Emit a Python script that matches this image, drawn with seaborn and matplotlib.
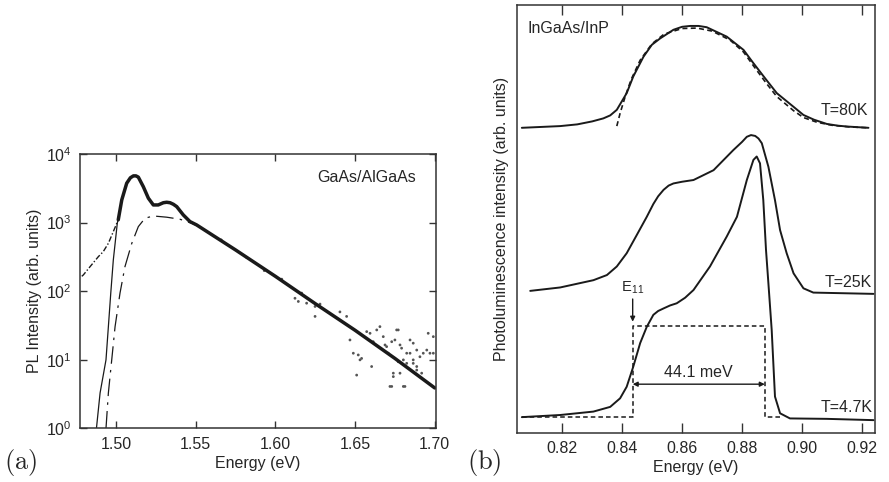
import math
import matplotlib
matplotlib.use("Agg")
import matplotlib.pyplot as plt
import matplotlib.ticker as mticker
import seaborn as sns

# ---------------- (a) GaAs/AlGaAs, PL intensity on a log axis ----------------
# measured spectrum (thick line)
meas_E = [1.5014, 1.5036, 1.5067, 1.5090, 1.5109, 1.5125, 1.5140, 1.5171, 1.5203,
          1.5234, 1.5265, 1.5297, 1.5318, 1.5339, 1.5360, 1.5381, 1.5422, 1.5464,
          1.5506, 1.5750, 1.6000, 1.6250, 1.6500, 1.6750, 1.7000]
meas_I = [1100, 2140, 3750, 4500, 4800, 4800, 4600, 3350, 2270,
          1810, 1810, 1950, 1980, 1950, 1850, 1710, 1295, 1035,
          925, 400, 165, 66, 27, 10.5, 3.9]

# low-energy tail of the measured spectrum (dash-dot)
tail_E = [1.4785, 1.4795, 1.4837, 1.4889, 1.4920, 1.4952, 1.4983, 1.5014]
tail_I = [165, 173, 228, 319, 378, 500, 740, 1100]

# model including excitonic enhancement (thin solid)
fit_E = [1.4877, 1.4900, 1.4937, 1.4952, 1.4967, 1.4983, 1.5008, 1.5036]
fit_I = [1.0, 3.3, 10, 30.5, 94, 286, 980, 2140]

# free-carrier model (long dashes)
free_E = [1.4937, 1.4952, 1.4973, 1.4994, 1.5025, 1.5056, 1.5099, 1.5140,
          1.5182, 1.5234, 1.5318, 1.5401, 1.5475, 1.5520]
free_I = [1.0, 3.3, 10, 30.5, 94, 228, 500, 875,
          1160, 1250, 1200, 1120, 980, 880]

# scattered high-energy points
dots_E = [1.5660, 1.5820, 1.5930, 1.6040, 1.6123, 1.6144, 1.6165, 1.6196, 1.6249,
          1.6280, 1.6249, 1.6405, 1.6447, 1.6468, 1.6489, 1.6520, 1.6541, 1.6573,
          1.6594, 1.6614, 1.6636, 1.6656, 1.6688, 1.6708, 1.6730, 1.6761, 1.6782,
          1.6803, 1.6824, 1.6845, 1.6865, 1.6604, 1.6719, 1.6782, 1.6803, 1.6887,
          1.6510, 1.6531, 1.6698, 1.6740, 1.6677, 1.6750, 1.6771, 1.6792, 1.6824,
          1.6845, 1.6865, 1.6887, 1.6907, 1.6928, 1.6950, 1.6970, 1.6991, 1.6740,
          1.6813, 1.6730, 1.6865, 1.6887, 1.6918, 1.6771, 1.6959, 1.6991]
dots_I = [560, 310, 200, 150, 79, 71, 94, 67, 60,
          65, 43, 50, 43, 19.5, 12.5, 11.8, 10.5, 25.8,
          24.4, 18.4, 27.3, 30.5, 16.5, 12.5, 18.4, 27.3, 16.5,
          10, 8.9, 12.5, 10, 8.0, 4.1, 6.4, 4.1, 8.0,
          6.0, 10, 15.6, 5.7, 21.8, 19.5, 27.3, 14.8, 12.5,
          19.5, 17.5, 13.9, 11.1, 12.5, 13.9, 12.5, 21.8, 6.4,
          4.1, 4.1, 8.9, 7.1, 6.4, 9.4, 24.4, 12.5]

# ---------------- (b) InGaAs/InP, spectra at three temperatures ----------------
E_80 = [0.8065, 0.8193, 0.8250, 0.8300, 0.8337, 0.8360, 0.8382, 0.8415, 0.8437,
        0.8471, 0.8499, 0.8527, 0.8571, 0.8600, 0.8627, 0.8655, 0.8682, 0.8749,
        0.8805, 0.8838, 0.8880, 0.8916, 0.8972, 0.9005, 0.9040, 0.9083, 0.9120,
        0.9150, 0.9222]
I_80 = [71.3, 71.7, 72.1, 72.8, 73.5, 74.2, 75.5, 79.4, 83.3,
        87.9, 90.7, 92.2, 94.2, 94.9, 95.1, 95.1, 94.8, 92.6,
        89.5, 86.4, 82.6, 79.4, 76.2, 74.3, 73.2, 72.2, 71.8,
        71.6, 71.3]

E_80fit = [0.8382, 0.8393, 0.8410, 0.8430, 0.8460, 0.8499, 0.8540, 0.8600, 0.8650,
           0.8700, 0.8760, 0.8805, 0.8838, 0.8880, 0.8916, 0.8972, 0.9005, 0.9050,
           0.9100, 0.9160, 0.9222]
I_80fit = [71.7, 74.7, 78.6, 82.6, 87.1, 90.9, 93.2, 94.5, 94.6,
           93.9, 91.8, 89.0, 85.8, 81.8, 78.6, 75.3, 73.7, 72.6,
           71.9, 71.5, 71.3]

E_25 = [0.8093, 0.8193, 0.8304, 0.8349, 0.8382, 0.8415, 0.8449, 0.8482, 0.8504,
        0.8520, 0.8538, 0.8555, 0.8571, 0.8600, 0.8638, 0.8705, 0.8771, 0.8800,
        0.8816, 0.8830, 0.8844, 0.8855, 0.8866, 0.8888, 0.8910, 0.8927, 0.8949,
        0.8972, 0.9005, 0.9038, 0.9239]
I_25 = [33.2, 34.0, 35.7, 36.9, 38.9, 42.0, 46.3, 50.5, 53.5,
        55.3, 56.8, 57.8, 58.3, 58.7, 59.1, 61.4, 66.1, 68.0,
        69.2, 69.6, 69.4, 68.8, 67.7, 62.2, 54.4, 47.4, 42.0,
        37.3, 33.8, 32.8, 32.5]

E_47 = [0.8065, 0.8193, 0.8304, 0.8360, 0.8393, 0.8415, 0.8437, 0.8460, 0.8482,
        0.8504, 0.8520, 0.8538, 0.8560, 0.8582, 0.8610, 0.8638, 0.8693, 0.8749,
        0.8783, 0.8816, 0.8838, 0.8849, 0.8860, 0.8871, 0.8880, 0.8888, 0.8899,
        0.8910, 0.8927, 0.8960, 0.9083, 0.9239]
I_47 = [3.7, 4.2, 5.0, 6.1, 8.1, 10.8, 15.5, 21.0, 24.8,
        27.6, 28.5, 29.1, 29.8, 30.3, 31.6, 33.4, 38.9, 45.9,
        50.5, 59.1, 63.8, 64.6, 63.0, 54.4, 42.8, 35.0, 24.1,
        8.5, 4.6, 3.4, 3.3, 3.0]

E11 = 0.8435          # band edge marked by the arrow (eV)
split_meV = 44.1      # width of the step (meV)
step_low, step_high = 3.7, 25.0
step_E0, step_E1 = 0.8065, 0.8930

# ---------------- styling ----------------
sns.set_theme(style="ticks")
plt.rcParams["font.family"] = ["Liberation Sans", "DejaVu Sans"]
plt.rcParams["mathtext.fontset"] = "cm"
plt.rcParams["axes.edgecolor"] = "#333333"
plt.rcParams["axes.linewidth"] = 1.1

ink = "#1a1a1a"
fs = 11.5

fig = plt.figure(figsize=(8.89, 4.82), dpi=100)
ax1 = fig.add_axes([0.0900, 0.1110, 0.4001, 0.5695])
ax2 = fig.add_axes([0.5816, 0.1017, 0.4027, 0.8880])

# ---- panel (a) ----
sns.lineplot(x=tail_E, y=tail_I, ax=ax1, color=ink, lw=1.0, sort=False,
             estimator=None, linestyle=(0, (4, 1.5, 1, 1.5)))
sns.lineplot(x=fit_E, y=fit_I, ax=ax1, color=ink, lw=0.9, sort=False, estimator=None)
sns.lineplot(x=free_E, y=free_I, ax=ax1, color=ink, lw=0.9, sort=False,
             estimator=None, linestyle=(0, (14, 5, 2, 5)))
sns.lineplot(x=meas_E, y=meas_I, ax=ax1, color=ink, lw=2.5, sort=False, estimator=None)
sns.scatterplot(x=dots_E, y=dots_I, ax=ax1, color="#555555", s=4, edgecolor="none")

ax1.set_yscale("log")
ax1.set_xlim(1.4774, 1.7006)
ax1.set_ylim(1, 1e4)
ax1.set_xticks([1.50, 1.55, 1.60, 1.65, 1.70])
ax1.xaxis.set_major_formatter(mticker.FormatStrFormatter("%.2f"))
ax1.set_yticks([1, 10, 100, 1000, 10000])
ax1.yaxis.set_minor_locator(mticker.NullLocator())
ax1.yaxis.set_major_formatter(
    mticker.FuncFormatter(lambda v, p: r"$\mathregular{10^{%d}}$" % round(math.log10(v))))
ax1.tick_params(direction="in", top=True, right=True, length=5, width=1.0,
                labelsize=fs, color="#333333", pad=6)
ax1.set_xlabel("Energy (eV)", fontsize=fs, labelpad=3)
ax1.set_ylabel("PL Intensity (arb. units)", fontsize=fs, labelpad=3)
ax1.text(0.945, 0.913, "GaAs/AlGaAs", transform=ax1.transAxes, ha="right",
         va="center", fontsize=fs)

# ---- panel (b) ----
sns.lineplot(x=E_80, y=I_80, ax=ax2, color=ink, lw=1.4, sort=False, estimator=None)
sns.lineplot(x=E_80fit, y=I_80fit, ax=ax2, color=ink, lw=1.2, sort=False,
             estimator=None, linestyle=(0, (3, 2)))
sns.lineplot(x=E_25, y=I_25, ax=ax2, color=ink, lw=1.4, sort=False, estimator=None)
sns.lineplot(x=E_47, y=I_47, ax=ax2, color=ink, lw=1.4, sort=False, estimator=None)

E_top = E11 + split_meV / 1000.0
step_x = [step_E0, E11, E11, E_top, E_top, step_E1]
step_y = [step_low, step_low, step_high, step_high, step_low, step_low]
ax2.plot(step_x, step_y, color=ink, lw=1.1, linestyle=(0, (3, 2)))

ax2.annotate("", xy=(E11, 11.4), xytext=(E_top, 11.4),
             arrowprops=dict(arrowstyle="<|-|>", color=ink, lw=1.0,
                             mutation_scale=7, shrinkA=0, shrinkB=0))
ax2.text((E11 + E_top) / 2, 12.4, f"{split_meV} meV", ha="center",
         va="bottom", fontsize=fs)
ax2.annotate("", xy=(E11, 26.0), xytext=(E11, 31.3),
             arrowprops=dict(arrowstyle="-|>", color=ink, lw=1.0,
                             mutation_scale=7, shrinkA=0, shrinkB=0))
ax2.text(E11, 32.0, r"E$_{\mathregular{11}}$", ha="center", va="bottom",
         fontsize=fs - 1)

ax2.text(0.922, 73.6, "T=80K", ha="right", va="bottom", fontsize=fs)
ax2.text(0.9235, 33.4, "T=25K", ha="right", va="bottom", fontsize=fs)
ax2.text(0.9235, 4.2, "T=4.7K", ha="right", va="bottom", fontsize=fs)
ax2.text(0.03, 0.946, "InGaAs/InP", transform=ax2.transAxes, ha="left",
         va="center", fontsize=fs)

ax2.set_xlim(0.8049, 0.9244)
ax2.set_ylim(0, 100)
ax2.set_xticks([0.82, 0.84, 0.86, 0.88, 0.90, 0.92])
ax2.xaxis.set_major_formatter(mticker.FormatStrFormatter("%.2f"))
ax2.set_yticks([])
ax2.tick_params(axis="x", direction="in", top=True, length=7, width=1.0,
                labelsize=fs, color="#333333", pad=6)
ax2.set_xlabel("Energy (eV)", fontsize=fs, labelpad=3)
ax2.set_ylabel("Photoluminescence intensity (arb. units)", fontsize=fs, labelpad=6)

fig.text(0.004, 0.040, r"$\mathrm{(a)}$", fontsize=19, ha="left", va="center")
fig.text(0.525, 0.040, r"$\mathrm{(b)}$", fontsize=19, ha="left", va="center")

fig.savefig("out.png", dpi=100)
